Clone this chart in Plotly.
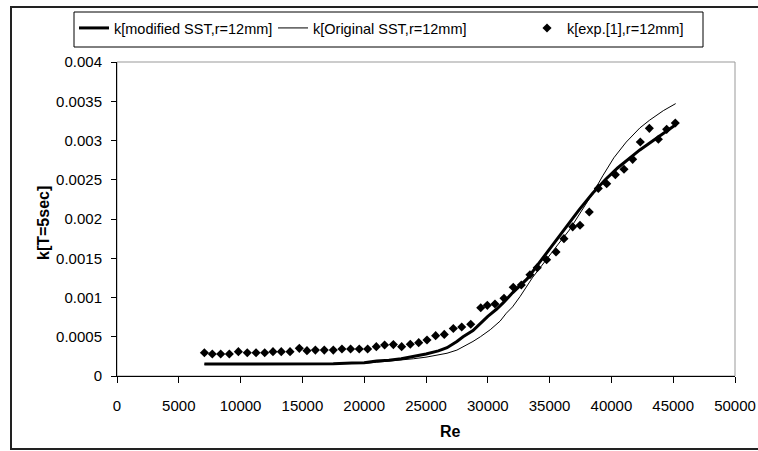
import plotly.graph_objects as go

# ---------------- data ----------------
re_modified = [7070, 10000, 15000, 17500, 19000, 20000, 21000, 22000, 23000, 24000,
               25000, 26000, 26700, 27500, 28000, 28800, 29400, 30000, 30700, 31300,
               32000, 32700, 33200, 34200, 35200, 36300, 37400, 38500, 39500, 40500,
               41500, 42300, 43300, 44300, 45200]
k_modified = [0.000153, 0.000153, 0.000153, 0.000155, 0.000165, 0.00017, 0.00019, 0.0002,
              0.00022, 0.000248, 0.00028, 0.00032, 0.00036, 0.00044, 0.0005, 0.00058,
              0.00067, 0.00076, 0.00085, 0.00094, 0.00106, 0.00117, 0.00124, 0.00145,
              0.00166, 0.00188, 0.00212, 0.00233, 0.0025, 0.00265, 0.00278, 0.00288,
              0.00299, 0.0031, 0.0032]

re_original = [7070, 17500, 20000, 21000, 22000, 23000, 24000, 25000, 26000, 26700,
               27500, 28000, 28800, 29400, 30200, 31000, 31500, 32000, 32600, 33600,
               34700, 35700, 36600, 37500, 38500, 39300, 40200, 41200, 42300, 43100,
               44200, 45200]
k_original = [0.00015, 0.000152, 0.00016, 0.000175, 0.00019, 0.0002, 0.00022, 0.00024,
              0.00027, 0.00029, 0.00033, 0.00037, 0.00044, 0.0005, 0.00059, 0.0007,
              0.0008, 0.00088, 0.00101, 0.00125, 0.00148, 0.00168, 0.00186, 0.00208,
              0.00233, 0.00255, 0.00278, 0.00298, 0.00316, 0.00326, 0.00338, 0.00347]

re_exp = [7070, 7710, 8390, 9090, 9820, 10540, 11250, 11950, 12620, 13290,
          14000, 14750, 15370, 16050, 16770, 17500, 18200, 18900, 19600, 20280,
          20980, 21650, 22360, 23030, 23730, 24410, 25080, 25780, 26480, 27210,
          27890, 28620, 29430, 29960, 30580, 31310, 32060, 32710, 33410, 34000,
          34760, 35520, 36160, 36870, 37460, 38210, 38940, 39620, 40320, 41020,
          41720, 42340, 43070, 43800, 44470, 45170]
k_exp = [0.000297, 0.00028, 0.00028, 0.00028, 0.00031, 0.000297, 0.000297, 0.000297,
         0.00031, 0.00031, 0.00031, 0.000352, 0.000323, 0.00033, 0.00033, 0.00033,
         0.000344, 0.000344, 0.000344, 0.000344, 0.000374, 0.000395, 0.0004, 0.000374,
         0.000404, 0.000425, 0.000459, 0.000514, 0.00053, 0.000605, 0.000625, 0.00066,
         0.00087, 0.0009, 0.000917, 0.00099, 0.00113, 0.00116, 0.00129, 0.00138,
         0.00148, 0.00158, 0.00175, 0.0019, 0.00192, 0.00209, 0.00239, 0.00245,
         0.002565, 0.002633, 0.00276, 0.00298, 0.003155, 0.003015, 0.003142, 0.003223]

x_ticks = [0, 5000, 10000, 15000, 20000, 25000, 30000, 35000, 40000, 45000, 50000]
x_tick_labels = ["0", "5000", "10000", "15000", "20000", "25000", "30000",
                 "35000", "40000", "45000", "50000"]
y_ticks = [0, 0.0005, 0.001, 0.0015, 0.002, 0.0025, 0.003, 0.0035, 0.004]
y_tick_labels = ["0", "0.0005", "0.001", "0.0015", "0.002", "0.0025", "0.003",
                 "0.0035", "0.004"]

names = ["k[modified SST,r=12mm]", "k[Original SST,r=12mm]", "k[exp.[1],r=12mm]"]
x_title = "Re"
y_title = "k[T=5sec]"

# ---------------- layout helpers ----------------
W, H = 758, 451
L, R, T, B = 117, 23, 62, 75
PW, PH = W - L - R, H - T - B


def px_x(p):
    return (p - L) / PW


def px_y(p):
    return (H - B - p) / PH


FONT = "Liberation Sans, Arial, sans-serif"

fig = go.Figure()
fig.add_trace(go.Scatter(x=re_modified, y=k_modified, mode="lines", name=names[0],
                         line=dict(color="black", width=3), legend="legend"))
fig.add_trace(go.Scatter(x=re_original, y=k_original, mode="lines", name=names[1],
                         line=dict(color="black", width=1), legend="legend2"))
fig.add_trace(go.Scatter(x=re_exp, y=k_exp, mode="markers", name=names[2],
                         marker=dict(symbol="diamond", size=7, color="black"),
                         legend="legend3"))


def leg(xpx):
    return dict(orientation="h", x=px_x(xpx), y=px_y(12), xanchor="left", yanchor="top",
                borderwidth=0, bgcolor="rgba(0,0,0,0)",
                font=dict(family=FONT, size=14.5, color="black"), itemwidth=30)


fig.update_layout(
    width=W, height=H,
    margin=dict(l=L, r=R, t=T, b=B, autoexpand=False),
    paper_bgcolor="white", plot_bgcolor="white",
    font=dict(family=FONT, size=15, color="black"),
    showlegend=True,
    legend=leg(74), legend2=leg(273), legend3=leg(527),
    xaxis=dict(range=[0, 50000], tickvals=x_ticks, ticktext=x_tick_labels,
               showgrid=False, zeroline=False, showline=True, linecolor="black",
               linewidth=1, ticks="outside", ticklen=6, tickcolor="black",
               ticklabelstandoff=10),
    yaxis=dict(range=[0, 0.004], tickvals=y_ticks, ticktext=y_tick_labels,
               showgrid=False, zeroline=False, showline=True, linecolor="black",
               linewidth=1, ticks="outside", ticklen=5, tickcolor="black",
               ticklabelstandoff=6),
    shapes=[
        dict(type="rect", xref="paper", yref="paper", x0=0, x1=1, y0=0, y1=1,
             line=dict(color="#999999", width=1), layer="below"),
        dict(type="rect", xref="paper", yref="paper",
             x0=px_x(11), x1=px_x(764), y0=px_y(449), y1=px_y(7),
             line=dict(color="#222222", width=2)),
        dict(type="rect", xref="paper", yref="paper",
             x0=px_x(74), x1=px_x(703), y0=px_y(47), y1=px_y(12),
             line=dict(color="black", width=1), fillcolor="white", layer="below"),
    ],
    annotations=[
        dict(text="<b>" + x_title + "</b>", xref="paper", yref="paper",
             x=px_x(450), y=px_y(431), showarrow=False, xanchor="center",
             yanchor="middle", font=dict(family=FONT, size=16)),
        dict(text="<b>" + y_title + "</b>", xref="paper", yref="paper",
             x=px_x(43), y=px_y(223), showarrow=False, xanchor="center",
             yanchor="middle", textangle=-90, font=dict(family=FONT, size=16)),
    ],
)

fig.write_html(
    "out.html",
    config={"displayModeBar": False},
    post_script="document.body.style.margin='0px';document.body.style.overflow='hidden';",
)
